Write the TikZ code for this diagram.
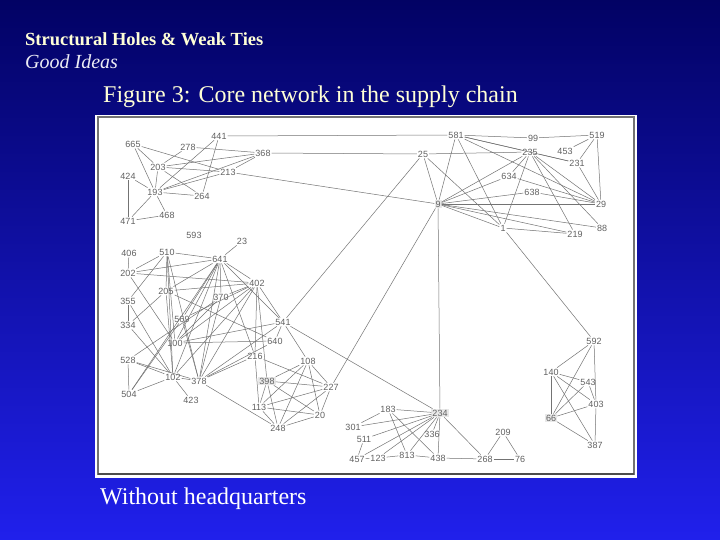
\documentclass[tikz,border=0pt]{standalone}
\usepackage{fontspec}
\setmainfont{Liberation Serif}
\setsansfont{Liberation Sans}
\definecolor{bgtop}{RGB}{2,2,100}
\definecolor{bgbot}{RGB}{32,32,236}
\definecolor{cream}{RGB}{255,255,214}
\definecolor{pale}{RGB}{236,236,244}

\begin{document}
\begin{tikzpicture}[x=1pt,y=-1pt,
  nd/.style={inner sep=1pt,font=\sffamily\fontsize{9}{10}\selectfont,text=black!62},
  hl/.style={nd,fill=black!9},
  lk/.style={draw=black!55,line width=0.5pt},
  ttl/.style={anchor=base west,inner sep=0pt}]

% --- slide background ---
\useasboundingbox (0,0) rectangle (720,540);
\shade[top color=bgtop,bottom color=bgbot] (0,0) rectangle (720,540);

% --- titles ---
\node[ttl,text=cream,font=\bfseries\fontsize{18.5}{22}\selectfont] (head) at (25,46) {Structural Holes \& Weak Ties};
\node[ttl,text=pale,font=\itshape\fontsize{20}{22}\selectfont] (sub) at (25,69) {Good Ideas};
\node[ttl,text=cream,font=\fontsize{24}{28}\selectfont] (fig) at (103,103) {Figure 3: Core network in the supply chain};
\node[ttl,text=white,font=\fontsize{24}{28}\selectfont] (cap) at (100,504) {Without headquarters};

% --- picture panel ---
\fill[white] (95,115) rectangle (637,478);
\draw[black!55,line width=1.2pt] (98,117) rectangle (634,474);
\draw[black!70,line width=2.2pt] (98,474) -- (634,474);

% --- firms ---
\foreach \nm/\x/\y in {441/219/136,665/133/144,278/188/147,368/263/153,203/158/167,
  213/228/172,424/128/176,193/155/192,264/202/196,471/128/221,468/167/215,
  593/194/235,23/242/241,25/423/154,581/456/135,99/533/138,519/597/135,
  235/530/152,453/565/151,231/577/163,634/509/176,638/532/192,29/601/204,
  1/503/228,88/602/228,219/575/234,406/129/253,510/167/252,641/220/259,
  202/128/273,205/166/291,402/257/283,370/221/297,355/128/301,569/182/319,
  334/128/325,100/175/343,216/255/356,541/283/322,640/275/341,378/199/381,
  528/128/360,102/173/377,504/129/394,423/191/400,113/259/407,108/308/361,
  227/331/387,20/320/415,248/278/428,183/388/409,301/353/427,511/364/439,
  336/432/434,457/357/459,123/378/458,813/407/455,438/438/458,140/551/372,
  543/588/382,403/596/404,387/595/445,209/503/432,268/485/459,76/520/459,
  592/594/341}
  \node[nd] (n\nm) at (\x,\y) {\nm};
\foreach \nm/\x/\y in {9/438/204,234/440/413,398/267/381,66/551/418}
  \node[hl] (n\nm) at (\x,\y) {\nm};

% --- ties ---
\foreach \a/\b in {665/203,665/193,665/213,278/203,278/368,441/193,441/264,
  441/581,368/203,368/193,368/213,368/25,203/213,203/264,203/193,424/193,
  424/471,193/213,193/264,193/471,193/468,471/468,213/9,
  25/235,25/9,25/541,25/1,581/99,581/235,581/231,581/9,581/1,581/29,99/519,
  519/453,519/231,519/29,235/231,235/634,235/9,235/1,235/29,235/88,235/219,
  634/9,634/29,638/9,638/29,231/29,9/29,9/88,9/1,9/219,1/219,9/227,9/234,
  1/592,541/234,
  406/202,355/334,528/504,641/23,510/641,510/202,510/355,510/205,510/100,
  510/102,510/378,641/202,641/205,641/402,641/370,641/569,641/100,641/102,
  641/378,641/216,641/541,641/504,202/402,202/100,205/402,205/640,205/102,
  402/370,402/569,402/100,402/102,402/378,402/216,402/398,402/541,355/102,
  334/102,334/205,528/102,528/378,528/370,504/102,504/569,100/640,100/541,
  102/378,102/423,378/248,378/216,378/640,378/541,370/378,569/378,370/100,
  216/113,216/227,541/640,541/108,108/398,108/113,108/248,108/227,108/20,
  398/227,398/20,398/113,398/248,113/227,113/20,113/248,248/227,248/20,227/20,
  183/234,183/301,183/813,183/438,301/234,511/234,511/457,457/234,457/123,
  123/813,123/234,813/438,813/234,336/234,234/438,234/268,438/268,268/76,
  268/209,209/76,
  592/140,592/66,592/403,140/66,140/543,140/403,140/387,66/543,66/403,
  66/387,543/403,403/387}
  \draw[lk] (n\a) -- (n\b);
\end{tikzpicture}
\end{document}
